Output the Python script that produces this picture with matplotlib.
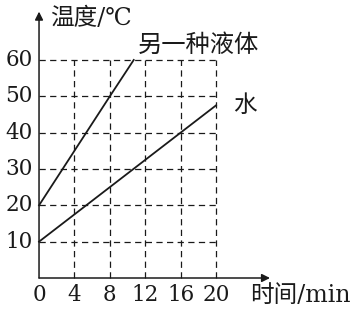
import matplotlib
matplotlib.use("Agg")
import matplotlib.pyplot as plt

# -----------------------------
# Data
# -----------------------------
time_liquid = [0, 4, 8, 10.7]
temp_liquid = [20, 35, 50, 60]

time_water = [0, 8, 16, 20]
temp_water = [10, 25, 40, 47.5]

x_ticks = [0, 4, 8, 12, 16, 20]
y_ticks = [10, 20, 30, 40, 50, 60]

cjk = ["DejaVu Serif", "Noto Sans CJK SC"]
serif = "DejaVu Serif"
ink = "#1a1a1a"

# -----------------------------
# Figure: one axes over the whole canvas, data coords
# -----------------------------
fig = plt.figure(figsize=(3.64, 3.11), dpi=100)
ax = fig.add_axes([0, 0, 1, 1])
ax.set_xlim(-4.41, 36.72)
ax.set_ylim(-9.08, 76.5)
ax.axis("off")

# dashed grid, only inside the 20 x 60 box
for x in x_ticks[1:]:
    ax.plot([x, x], [0, y_ticks[-1]], color=ink, lw=0.9, ls=(0, (5, 3.5)))
for y in y_ticks:
    ax.plot([0, x_ticks[-1]], [y, y], color=ink, lw=0.9, ls=(0, (5, 3.5)))

# axes with arrows
ax.annotate("", xy=(26.1, 0), xytext=(0, 0),
            arrowprops=dict(arrowstyle="-|>", color=ink, lw=1.1,
                            mutation_scale=12, shrinkA=0, shrinkB=0))
ax.annotate("", xy=(0, 73.3), xytext=(0, 0),
            arrowprops=dict(arrowstyle="-|>", color=ink, lw=1.1,
                            mutation_scale=12, shrinkA=0, shrinkB=0))

# lines
ax.plot(time_liquid, temp_liquid, color=ink, lw=1.3)
ax.plot(time_water, temp_water, color=ink, lw=1.3)

# tick labels
for x in x_ticks:
    ax.text(x, -4.6, str(x), ha="center", va="center",
            fontsize=15.5, family=serif, color=ink)
for y in y_ticks:
    ax.text(-0.7, y, str(y), ha="right", va="center",
            fontsize=15.5, family=serif, color=ink)

# texts
ax.text(1.2, 71.5, "温度/℃", ha="left", va="center",
        fontsize=17, family=cjk, color=ink)
ax.text(11.2, 63.9, "另一种液体", ha="left", va="center",
        fontsize=17.5, family=cjk, color=ink)
ax.text(21.9, 47.6, "水", ha="left", va="center",
        fontsize=17, family=cjk, color=ink)
ax.text(23.8, -4.7, "时间/min", ha="left", va="center",
        fontsize=17, family=cjk, color=ink)

fig.savefig("out.png", dpi=100)
